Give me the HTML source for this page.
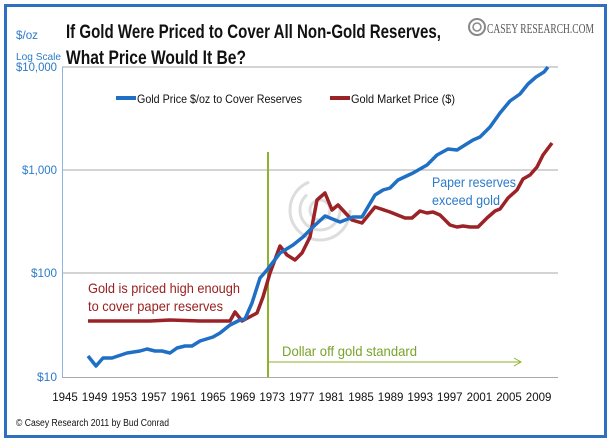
<!DOCTYPE html>
<html><head><meta charset="utf-8"><style>
html,body{margin:0;padding:0;background:#fff;}
svg{display:block;font-family:"Liberation Sans",sans-serif;}
</style></head><body>
<svg width="611" height="442" viewBox="0 0 611 442" xmlns="http://www.w3.org/2000/svg">
<rect x="0" y="0" width="611" height="442" fill="#fff"/>
<rect x="5.5" y="5.5" width="600" height="431" fill="none" stroke="#2f6fc0" stroke-width="3"/>
<text x="66" y="38" font-size="19" font-weight="bold" fill="#111" textLength="375" lengthAdjust="spacingAndGlyphs">If Gold Were Priced to Cover All Non-Gold Reserves,</text>
<text x="66" y="64" font-size="19" font-weight="bold" fill="#111" textLength="180" lengthAdjust="spacingAndGlyphs">What Price Would It Be?</text>
<text x="16" y="39" font-size="12" fill="#2b7bc9" textLength="22" lengthAdjust="spacingAndGlyphs">$/oz</text>
<text x="16" y="60" font-size="10.5" fill="#2b7bc9" textLength="45" lengthAdjust="spacingAndGlyphs">Log Scale</text>
<g>
<circle cx="477" cy="27" r="8" fill="none" stroke="#888" stroke-width="2"/>
<circle cx="477" cy="27" r="4" fill="none" stroke="#888" stroke-width="1.5"/>
<text x="487" y="33" font-family="Liberation Serif,serif" font-size="14" fill="#555" textLength="107" lengthAdjust="spacingAndGlyphs">CASEY RESEARCH.COM</text>
</g>
<line x1="62" y1="170" x2="558" y2="170" stroke="#aaa" stroke-width="1"/>
<line x1="62" y1="273" x2="558" y2="273" stroke="#aaa" stroke-width="1"/>
<line x1="62" y1="67" x2="558" y2="67" stroke="#aaa" stroke-width="1"/>
<line x1="62.5" y1="67" x2="62.5" y2="377" stroke="#8fb4de" stroke-width="1"/>
<line x1="62" y1="377.5" x2="558" y2="377.5" stroke="#aaa" stroke-width="1"/>
<g stroke="#999" stroke-width="1" id="ticks"></g>
<g font-size="12" fill="#2b7bc9" text-anchor="end">
<text x="57" y="71" textLength="41" lengthAdjust="spacingAndGlyphs">$10,000</text>
<text x="57" y="174" textLength="35" lengthAdjust="spacingAndGlyphs">$1,000</text>
<text x="57" y="277" textLength="26" lengthAdjust="spacingAndGlyphs">$100</text>
<text x="57" y="381" textLength="20" lengthAdjust="spacingAndGlyphs">$10</text>
</g>
<g font-size="11.5" fill="#111" text-anchor="middle">
<text x="65" y="401">1945</text><text x="94.6" y="401">1949</text><text x="124.2" y="401">1953</text><text x="153.8" y="401">1957</text><text x="183.4" y="401">1961</text><text x="213" y="401">1965</text><text x="242.6" y="401">1969</text><text x="272.2" y="401">1973</text><text x="301.8" y="401">1977</text><text x="331.4" y="401">1981</text><text x="361" y="401">1985</text><text x="390.6" y="401">1989</text><text x="420.2" y="401">1993</text><text x="449.8" y="401">1997</text><text x="479.4" y="401">2001</text><text x="509" y="401">2005</text><text x="538.6" y="401">2009</text>
</g>
<g fill="none" stroke="#ddd" stroke-width="3">
<circle cx="320" cy="210" r="10"/><circle cx="320" cy="210" r="20" stroke-dasharray="80 40"/><circle cx="320" cy="210" r="30" stroke-dasharray="130 60"/>
</g>
<line x1="268" y1="152" x2="268" y2="377" stroke="#8db32a" stroke-width="2"/>
<line x1="268" y1="362" x2="520" y2="362" stroke="#8db32a" stroke-width="1"/>
<polyline points="514,358 521,362 514,366" fill="none" stroke="#8db32a" stroke-width="1"/>
<text x="282" y="356" font-size="14" fill="#7aa32a" textLength="135" lengthAdjust="spacingAndGlyphs">Dollar off gold standard</text>
<text x="88" y="293" font-size="14" fill="#9b2020" textLength="152" lengthAdjust="spacingAndGlyphs">Gold is priced high enough</text>
<text x="88" y="311" font-size="14" fill="#9b2020" textLength="135" lengthAdjust="spacingAndGlyphs">to cover paper reserves</text>
<text x="432" y="187" font-size="14" fill="#2b7bc9" textLength="84" lengthAdjust="spacingAndGlyphs">Paper reserves</text>
<text x="432" y="205" font-size="14" fill="#2b7bc9" textLength="68" lengthAdjust="spacingAndGlyphs">exceed gold</text>
<line x1="116" y1="98" x2="136" y2="98" stroke="#1f6fc5" stroke-width="4"/>
<text x="137" y="103" font-size="12" fill="#111" textLength="165" lengthAdjust="spacingAndGlyphs">Gold Price $/oz to Cover Reserves</text>
<line x1="330" y1="98" x2="350" y2="98" stroke="#9b2226" stroke-width="4"/>
<text x="351" y="103" font-size="12" fill="#111" textLength="104" lengthAdjust="spacingAndGlyphs">Gold Market Price ($)</text>
<polyline fill="none" stroke="#9b2226" stroke-width="3.5" stroke-linejoin="round" points="88,321 150,321 170,320 200,321 230,321 235,312 242,321 257,313 263,297 270,273 280,246 287,255 295,260 302,253 310,237 317,200 325,193 332,210 338,205 352,220 362,223 375,207 390,212 405,218 412,218 420,211 427,213 433,212 440,215 450,225 457,227 463,226 470,227 478,227 487,218 495,211 500,209 508,198 517,190 523,179 530,175 537,167 543,155 552,143"/>
<polyline fill="none" stroke="#1f6fc5" stroke-width="3.5" stroke-linejoin="round" points="88,356 96,366 103,358 112,358 118,356 127,353 140,351 147,349 155,351 162,351 170,353 177,348 185,346 192,346 200,341 213,337 220,333 230,325 240,320 245,319 252,303 260,278 267,270 280,253 293,245 303,237 313,227 325,216 340,222 353,217 362,217 375,195 383,190 390,188 398,180 413,173 427,165 437,155 448,149 457,150 473,140 480,137 490,127 500,113 510,101 520,94 528,84 536,77 544,72 548,67"/>
<text x="16" y="426" font-size="10" fill="#111" textLength="153" lengthAdjust="spacingAndGlyphs">© Casey Research 2011 by Bud Conrad</text>
<script>
var g=document.getElementById('ticks'),s='';
for(var i=0;i<=66;i++){var x=65+i*7.4;if(x>558)break;s+='<line x1="'+x+'" y1="377" x2="'+x+'" y2="381"/>';}
g.innerHTML=s;
</script>
</svg>
</body></html>
